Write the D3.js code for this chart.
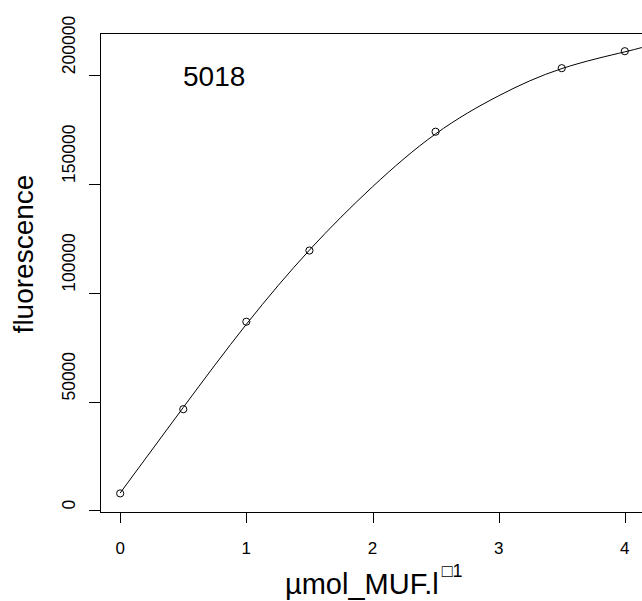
<!DOCTYPE html>
<html>
<head>
  <meta charset="utf-8">
  <script src="https://cdnjs.cloudflare.com/ajax/libs/d3/7.8.5/d3.min.js"></script>
  <style>
    body { margin: 0; background: #fff; }
    text { font-family: "Liberation Sans", Arial, sans-serif; fill: #000; }
  </style>
</head>
<body>
<script>
// measured points
const concX = [0, 0.5, 1, 1.5, 2.5, 3.5, 4];
const fluor = [7800, 46500, 86700, 119400, 174000, 203200, 211000];

// fitted curve
const fitX = [0, 0.5, 1, 1.5, 2, 2.5, 3, 3.5, 4, 4.2];
const fitY = [8000, 47300, 85500, 119600, 148700, 173000, 190500, 203000, 210700, 213800];

const xTicks = [0, 1, 2, 3, 4];
const yTicks = [0, 50000, 100000, 150000, 200000];
const sampleName = "5018";

const W = 642, H = 601;
// plot box (right side runs just past the window)
const box = {left: 100, right: 645, top: 32.7, bottom: 511.7};

const svg = d3.select("body").append("svg")
    .attr("width", W)
    .attr("height", H);

const x = d3.scaleLinear().domain([-0.16, 4.16]).range([box.left, box.right]);
const y = d3.scaleLinear().domain([-600, 219500]).range([box.bottom, box.top]);

svg.append("clipPath").attr("id", "clip")
  .append("rect")
    .attr("x", box.left).attr("y", box.top)
    .attr("width", box.right - box.left).attr("height", box.bottom - box.top);

// box
svg.append("rect")
    .attr("x", box.left + 0.5).attr("y", Math.round(box.top) + 0.5)
    .attr("width", box.right - box.left).attr("height", Math.round(box.bottom) - Math.round(box.top))
    .attr("fill", "none").attr("stroke", "#000").attr("stroke-width", 1);

// x axis
const xAxis = svg.append("g");
xAxis.selectAll("line").data(xTicks).enter().append("line")
    .attr("x1", d => Math.round(x(d)) + 0.5).attr("x2", d => Math.round(x(d)) + 0.5)
    .attr("y1", Math.round(box.bottom)).attr("y2", Math.round(box.bottom) + 11)
    .attr("stroke", "#000");
xAxis.selectAll("text").data(xTicks).enter().append("text")
    .attr("x", d => x(d)).attr("y", 554)
    .attr("text-anchor", "middle")
    .style("font-size", "17px")
    .text(d => d);

// y axis
const yAxis = svg.append("g");
yAxis.selectAll("line").data(yTicks).enter().append("line")
    .attr("x1", box.left - 11).attr("x2", box.left)
    .attr("y1", d => Math.round(y(d)) + 0.5).attr("y2", d => Math.round(y(d)) + 0.5)
    .attr("stroke", "#000");
yAxis.selectAll("text").data(yTicks).enter().append("text")
    .attr("transform", d => "translate(75," + (y(d) - 1) + ") rotate(-90)")
    .attr("text-anchor", "start")
    .style("font-size", "17.5px")
    .text(d => d);

// titles
svg.append("text")
    .attr("transform", "translate(33,254) rotate(-90)")
    .attr("text-anchor", "middle")
    .style("font-size", "28px")
    .text("fluorescence");

const xl = svg.append("text")
    .attr("x", 285).attr("y", 594)
    .attr("text-anchor", "start")
    .style("font-size", "29px");
xl.append("tspan").text("µmol_MUF.l");
xl.append("tspan").attr("dx", 3).attr("dy", -17).style("font-size", "18px").text("□1");

svg.append("text")
    .attr("x", 183).attr("y", 86)
    .style("font-size", "28px")
    .text(sampleName);

// fitted line
const fit = fitX.map((d, i) => [d, fitY[i]]);
svg.append("path")
    .datum(fit)
    .attr("clip-path", "url(#clip)")
    .attr("fill", "none")
    .attr("stroke", "#000")
    .attr("stroke-width", 1)
    .attr("d", d3.line().x(d => x(d[0])).y(d => y(d[1])).curve(d3.curveNatural));

// points
svg.selectAll("circle.pt")
    .data(concX)
    .enter().append("circle")
    .attr("class", "pt")
    .attr("cx", d => x(d))
    .attr("cy", (d, i) => y(fluor[i]))
    .attr("r", 3.6)
    .attr("fill", "none")
    .attr("stroke", "#000")
    .attr("stroke-width", 1);
</script>
</body>
</html>
